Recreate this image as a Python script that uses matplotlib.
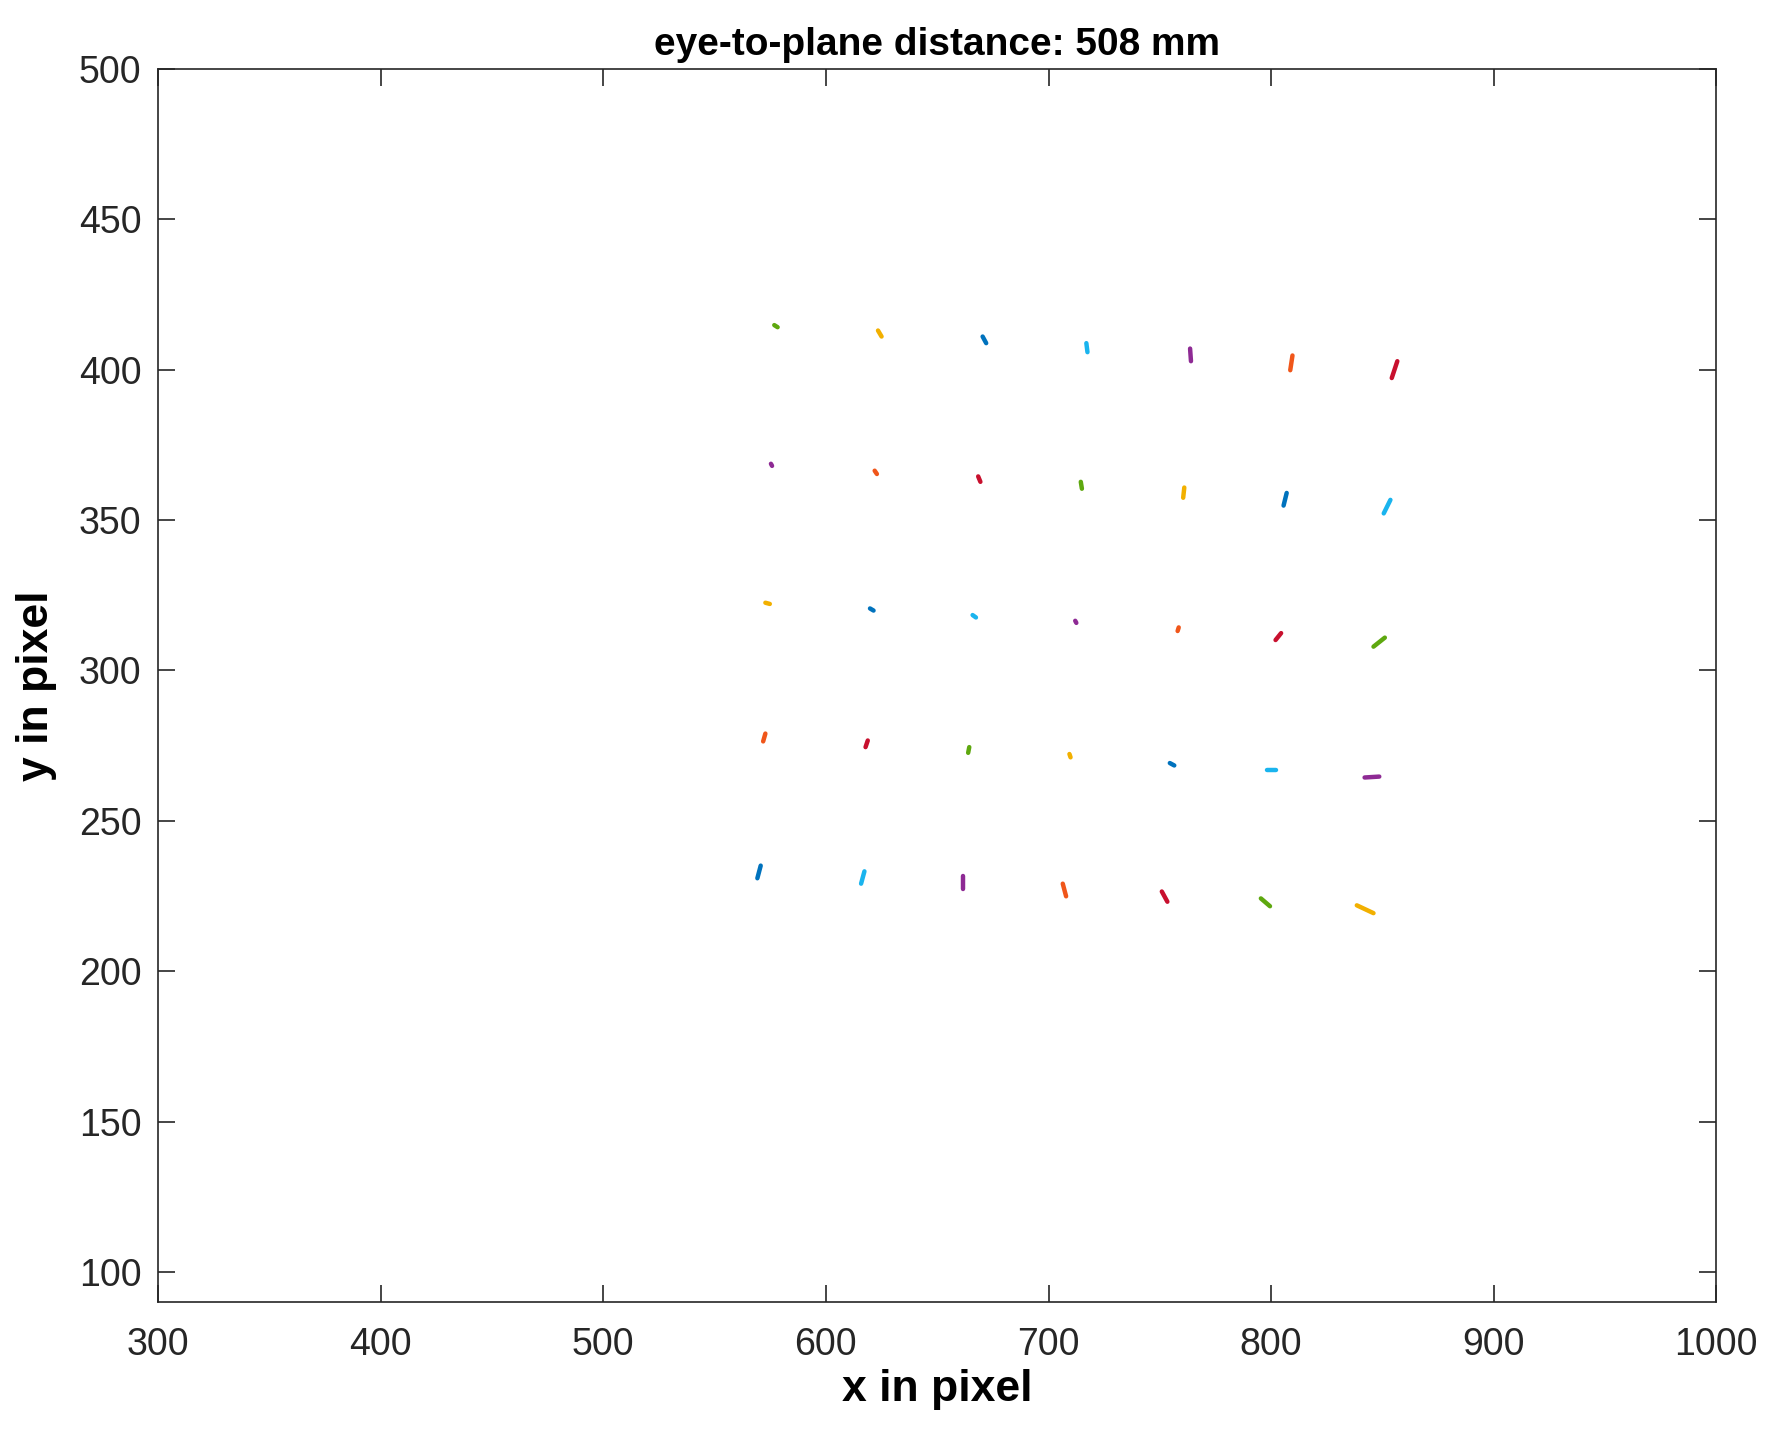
import matplotlib
matplotlib.use("Agg")
import matplotlib.pyplot as plt

plt.rcParams['font.family'] = ['Liberation Sans', 'DejaVu Sans']

cols = {'b': '#0072BD', 'o': '#F0561A', 'y': '#F2B000', 'p': '#8E2A94',
        'g': '#5EA80F', 'c': '#1AB4EE', 'r': '#C8102E'}

# segments: (x0, x1, y0, y1, color)
x_start = [576.8, 623.4, 670.4, 717.0, 763.6, 809.6, 856.7,
           575.3, 621.9, 668.4, 714.5, 761.0, 807.0, 853.6,
           572.8, 619.8, 665.9, 712.0, 758.5, 804.5, 851.1,
           572.8, 618.8, 664.4, 709.4, 754.5, 798.0, 842.0,
           570.7, 617.3, 661.8, 706.4, 750.9, 795.4, 838.5]
x_end = [578.3, 625.0, 672.0, 717.5, 764.0, 808.6, 854.2,
         575.8, 622.9, 669.4, 715.0, 760.5, 805.6, 850.6,
         574.8, 621.4, 667.4, 712.5, 758.0, 802.0, 846.0,
         571.8, 617.8, 663.9, 709.9, 756.5, 802.0, 848.6,
         569.2, 615.8, 661.8, 707.9, 753.4, 799.5, 846.0]
y_start = [414.8, 413.0, 411.0, 408.8, 407.0, 404.7, 402.8,
           368.7, 366.4, 364.5, 362.7, 360.8, 359.0, 356.7,
           322.5, 320.6, 318.4, 316.5, 314.3, 312.4, 310.9,
           279.0, 276.7, 274.5, 272.2, 269.2, 267.0, 264.4,
           235.1, 233.2, 231.7, 229.1, 226.5, 224.2, 221.9]
y_end = [414.1, 411.0, 408.8, 405.8, 402.8, 399.8, 397.2,
         368.0, 365.3, 362.7, 360.4, 357.4, 354.8, 352.2,
         322.1, 319.9, 317.6, 315.8, 313.1, 310.1, 307.9,
         276.4, 274.5, 272.6, 271.1, 268.4, 267.0, 264.7,
         230.9, 229.1, 227.2, 224.9, 223.1, 221.6, 219.3]
seg_colors = ['g', 'y', 'b', 'c', 'p', 'o', 'r',
              'p', 'o', 'r', 'g', 'y', 'b', 'c',
              'y', 'b', 'c', 'p', 'o', 'r', 'g',
              'o', 'r', 'g', 'y', 'b', 'c', 'p',
              'b', 'c', 'p', 'o', 'r', 'g', 'y']

fig = plt.figure(figsize=(8.835, 7.17), dpi=200)
ax = fig.add_axes([0.0895, 0.092, 0.8843 - 0.0025, 0.86])
for xs, xe, ys, ye, c in zip(x_start, x_end, y_start, y_end, seg_colors):
    ax.plot([xs, xe], [ys, ye], color=cols[c], lw=1.6, solid_capstyle='round')

ax.set_xlim(300, 1000)
ax.set_ylim(90, 500)
ax.set_xticks(range(300, 1001, 100))
ax.set_yticks(range(100, 501, 50))
ax.tick_params(direction='in', top=True, right=True, labelsize=13.5, length=6, width=0.6, colors='#262626')
ax.tick_params(axis='x', pad=9)
ax.tick_params(axis='y', pad=6)
for s in ax.spines.values():
    s.set_linewidth(0.6)
    s.set_color('#262626')
ax.set_xlabel('x in pixel', fontsize=16, fontweight='bold', labelpad=2)
ax.set_ylabel('y in pixel', fontsize=16, fontweight='bold', labelpad=8)
ax.set_title('eye-to-plane distance: 508 mm', fontsize=14, fontweight='bold', pad=5)
fig.savefig('out.png', dpi=200)
